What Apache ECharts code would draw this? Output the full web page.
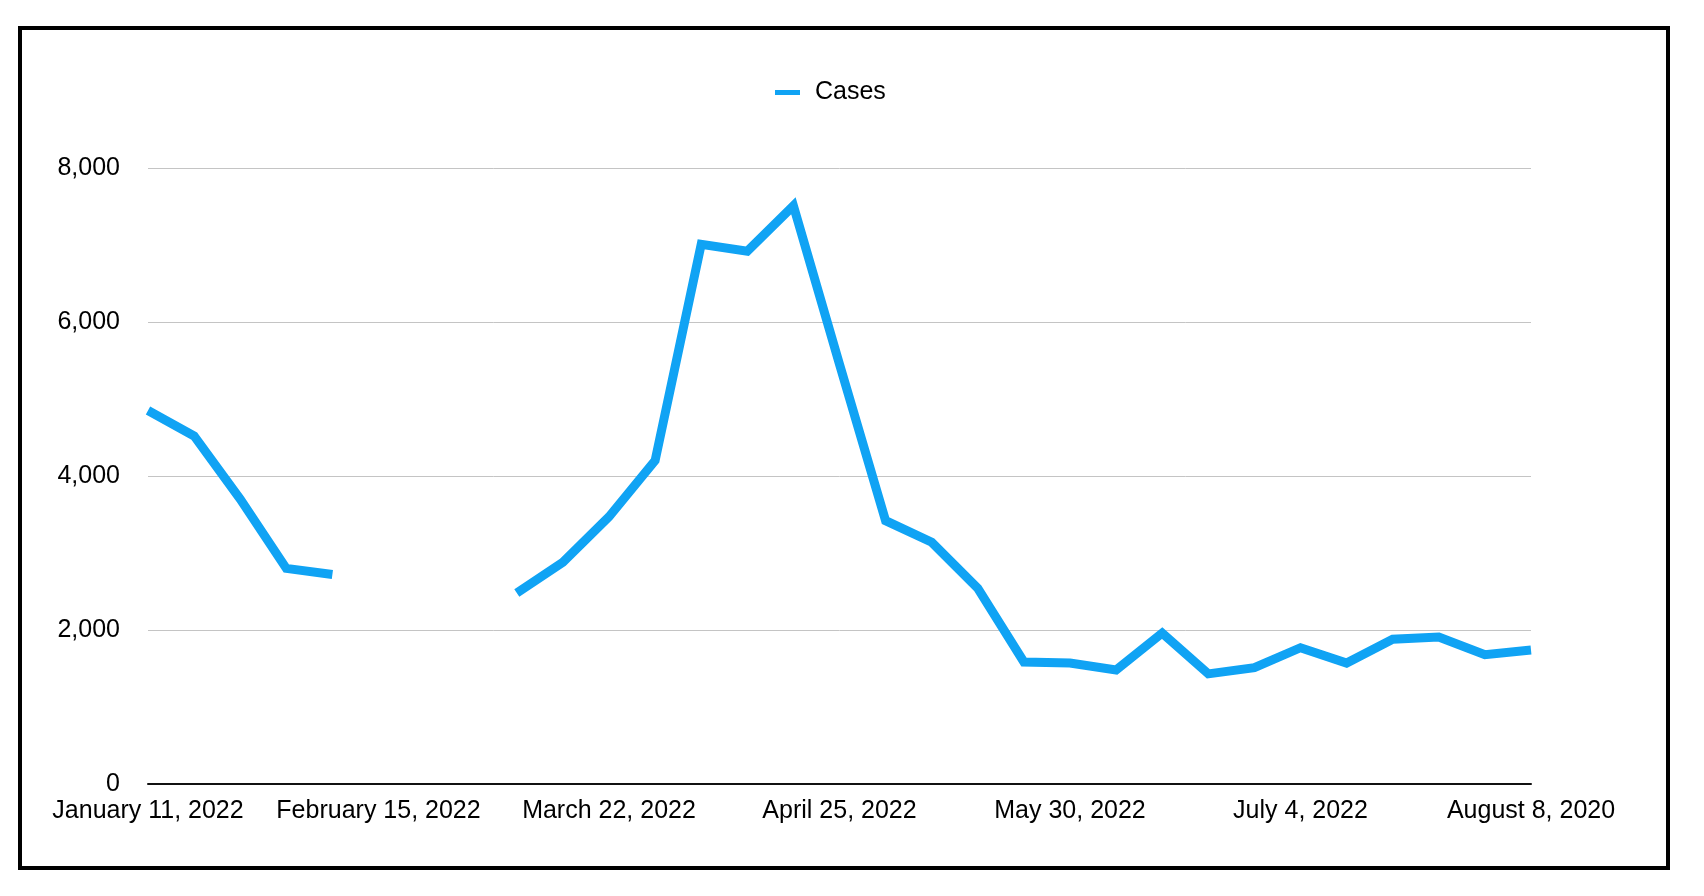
<!DOCTYPE html>
<html>
<head>
<meta charset="utf-8">
<script src="https://cdn.jsdelivr.net/npm/echarts@6/dist/echarts.min.js"></script>
<style>
html,body{margin:0;padding:0;background:#fff;}
#chart{width:1704px;height:896px;}
</style>
</head>
<body>
<div id="chart"></div>
<script>
const categories = [
  "January 11, 2022","January 18, 2022","January 25, 2022","February 1, 2022","February 8, 2022",
  "February 15, 2022","February 22, 2022","March 1, 2022","March 8, 2022","March 15, 2022",
  "March 22, 2022","March 29, 2022","April 5, 2022","April 12, 2022","April 19, 2022",
  "April 25, 2022","May 2, 2022","May 9, 2022","May 16, 2022","May 23, 2022",
  "May 30, 2022","June 6, 2022","June 13, 2022","June 20, 2022","June 27, 2022",
  "July 4, 2022","July 11, 2022","July 18, 2022","July 25, 2022","August 1, 2022",
  "August 8, 2020"
];
const cases = [
  4850, 4520, 3700, 2800, 2720,
  null, null, null, 2480, 2880,
  3470, 4200, 7010, 6920, 7510,
  5450, 3420, 3140, 2540, 1585,
  1570, 1480, 1960, 1430, 1510,
  1770, 1570, 1880, 1910, 1680,
  1740
];
const yTicks = [0, 2000, 4000, 6000, 8000];
const seriesName = "Cases";

const chart = echarts.init(document.getElementById('chart'));
const font = "'Liberation Sans', Arial, Helvetica, sans-serif";
chart.setOption({
  backgroundColor: '#ffffff',
  animation: false,
  textStyle: { fontFamily: font },
  graphic: [{
    type: 'rect',
    shape: { x: 20, y: 28, width: 1648, height: 840 },
    style: { fill: 'none', stroke: '#000', lineWidth: 4 },
    silent: true
  }],
  legend: {
    data: [seriesName],
    top: 75,
    left: 770,
    icon: 'rect',
    itemWidth: 25,
    itemHeight: 5,
    itemGap: 15,
    textStyle: { fontSize: 25, color: '#000', fontFamily: font, padding: [0, 0, 0, 10] }
  },
  grid: { left: 148, right: 173, top: 168, bottom: 112, containLabel: false },
  xAxis: {
    type: 'category',
    data: categories,
    boundaryGap: false,
    axisLine: { show: true, lineStyle: { color: '#111', width: 2 } },
    axisTick: { show: false },
    axisLabel: {
      interval: 4,
      color: '#000',
      fontSize: 25,
      fontFamily: font,
      margin: 15
    },
    splitLine: { show: false }
  },
  yAxis: {
    type: 'value',
    min: yTicks[0],
    max: yTicks[yTicks.length - 1],
    interval: 2000,
    axisLine: { show: false },
    axisTick: { show: false },
    axisLabel: {
      color: '#000',
      fontSize: 25,
      fontFamily: font,
      margin: 28,
      formatter: v => v.toLocaleString('en-US')
    },
    splitLine: { lineStyle: { color: '#c4c4c4', width: 1 } }
  },
  series: [{
    name: seriesName,
    type: 'line',
    data: cases,
    showSymbol: false,
    connectNulls: false,
    color: '#10a3f4',
    lineStyle: { width: 9, color: '#10a3f4', join: 'miter', cap: 'butt' }
  }]
});
</script>
</body>
</html>
